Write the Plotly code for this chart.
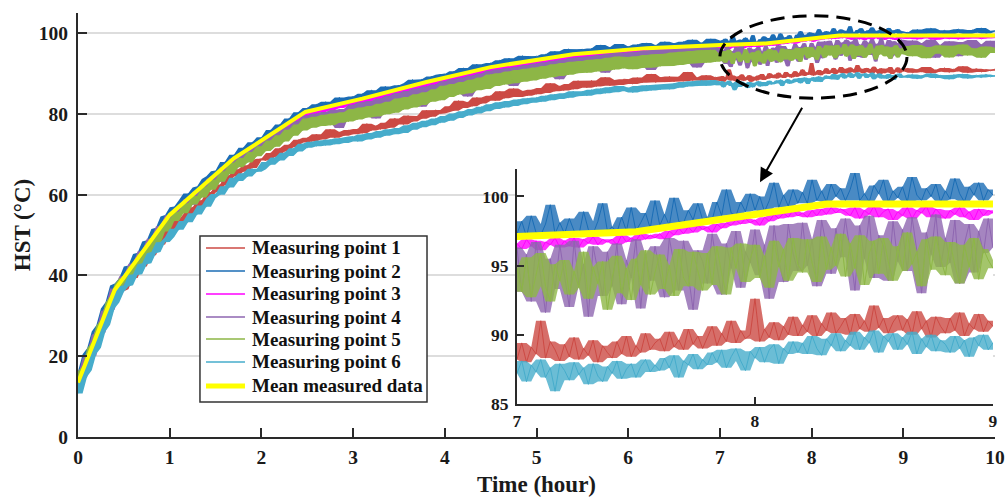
import numpy as np
import pandas as pd
import plotly.graph_objects as go

SERIF = "Liberation Serif"

# ---------------- time grids (hours) ----------------
time_a = np.round(np.arange(140) * 0.05, 2)          # 0.00 .. 6.95
time_b = np.round(7.0 + np.arange(101) * 0.02, 2)    # 7.00 .. 9.00 (zoomed window)
time_c = np.round(9.05 + np.arange(20) * 0.05, 2)    # 9.05 .. 10.00

# ---------------- mean measured data (piecewise) ----------------
mean_time = [0, 0.4, 1.0, 1.7, 2.48, 3.1, 3.8, 4.5, 5.4, 6.2, 7.0, 7.5, 8.3, 10]
mean_hst = [13.5, 36.4, 55.0, 69.0, 80.5, 83.8, 87.9, 91.6, 94.8, 96.3, 97.1, 97.45, 99.45, 99.45]

# ---------------- Measuring point 1 (red) ----------------
mp1_a = [12.0, 15.8, 17.2, 21.3, 22.9, 26.8, 28.3, 32.4, 33.9, 36.1,
         36.6, 39.3, 39.4, 42.1, 42.2, 44.8, 45.0, 47.5, 47.7, 50.3,
         51.4, 51.6, 53.8, 53.3, 55.2, 56.9, 56.4, 58.6, 58.5, 60.7,
         60.6, 62.5, 62.4, 64.8, 64.5, 66.3, 65.7, 67.3, 66.6, 68.6,
         68.9, 68.5, 70.3, 69.4, 71.5, 70.7, 72.4, 71.8, 73.6, 72.9,
         74.1, 73.2, 75.0, 73.7, 74.9, 76.2, 74.1, 75.5, 74.6, 76.0,
         75.0, 76.3, 75.2, 77.6, 75.9, 77.1, 76.2, 77.8, 76.6, 78.9,
         78.3, 77.4, 79.6, 78.1, 79.5, 78.8, 80.9, 79.3, 81.0, 80.1,
         80.4, 81.9, 80.8, 83.3, 81.5, 82.9, 81.9, 84.1, 82.6, 83.4,
         84.5, 83.3, 85.6, 83.9, 84.9, 86.3, 84.2, 85.7, 84.5, 86.0,
         84.9, 86.4, 85.2, 87.6, 85.6, 86.9, 85.8, 87.4, 86.1, 88.2,
         87.6, 86.5, 88.3, 86.8, 87.9, 89.1, 87.0, 88.4, 87.2, 88.6,
         88.5, 87.4, 89.0, 87.7, 88.8, 89.9, 87.8, 89.1, 87.9, 89.3,
         88.0, 89.2, 88.1, 90.4, 88.3, 89.0, 88.2, 89.6, 88.4, 89.1]
mp1_b = [88.2, 89.4, 88.0, 89.1, 88.6, 91.0, 88.3, 89.5, 88.9, 88.1,
         89.3, 88.4, 89.8, 88.2, 89.0, 88.5, 89.6, 88.0, 89.2, 88.7,
         88.3, 89.5, 88.6, 89.9, 88.4, 89.2, 88.7, 90.1, 88.9, 89.4,
         89.7, 88.8, 90.2, 89.1, 89.6, 88.9, 90.4, 89.3, 89.9, 89.0,
         89.8, 90.6, 89.2, 90.1, 89.5, 91.0, 89.4, 90.3, 89.7, 90.0,
         92.6, 89.5, 90.4, 89.8, 90.9, 89.6, 90.6, 90.0, 91.3, 89.9,
         90.7, 90.2, 91.4, 89.9, 90.8, 90.3, 91.6, 90.1, 90.6, 91.2,
         90.0, 91.5, 90.4, 91.0, 90.2, 92.1, 90.5, 91.2, 90.1, 90.9,
         91.4, 90.3, 91.1, 90.0, 91.7, 90.4, 91.0, 89.8, 91.3, 90.6,
         90.1, 91.2, 90.3, 91.6, 89.9, 90.8, 90.4, 91.5, 90.2, 91.0,
         90.6]
mp1_c = [91.3, 90.2, 91.0, 90.4, 91.6, 90.1, 90.9, 90.5, 91.4, 90.3,
         91.1, 90.6, 91.8, 90.2, 90.8, 91.2, 90.4, 91.0, 90.7, 91.1]

# ---------------- Measuring point 2 (blue) ----------------
mp2_a = [14.3, 16.2, 20.5, 22.0, 26.1, 27.7, 31.8, 33.4, 37.5, 38.0,
         39.4, 42.2, 42.5, 45.3, 45.6, 48.4, 48.7, 51.5, 51.8, 54.6,
         55.0, 56.9, 57.1, 58.6, 60.3, 60.0, 61.8, 62.1, 63.9, 64.6,
         65.8, 66.0, 68.1, 68.0, 69.9, 69.6, 71.6, 71.2, 73.0, 72.7,
         74.2, 74.1, 76.0, 75.6, 77.4, 77.1, 78.9, 78.5, 80.4, 80.0,
         81.5, 80.7, 82.4, 81.3, 83.0, 81.9, 82.6, 84.1, 82.7, 83.8,
         84.3, 83.6, 85.0, 84.1, 85.9, 84.8, 85.6, 86.8, 85.7, 86.5,
         87.1, 86.3, 87.6, 88.5, 87.2, 88.6, 87.9, 89.3, 88.5, 89.7,
         89.9, 89.2, 90.6, 89.8, 91.4, 90.3, 91.2, 92.3, 91.0, 92.1,
         92.6, 91.8, 93.3, 92.2, 93.8, 92.5, 93.5, 94.4, 93.1, 94.0,
         94.3, 93.6, 94.8, 94.0, 95.5, 94.3, 95.2, 96.1, 94.9, 95.8,
         96.0, 95.1, 96.2, 95.4, 97.1, 95.6, 96.5, 95.9, 97.3, 96.2,
         96.7, 95.9, 97.2, 96.1, 97.6, 96.3, 97.0, 96.5, 97.9, 96.6,
         97.5, 96.7, 97.9, 96.9, 98.4, 97.0, 97.6, 97.3, 98.6, 97.4]
mp2_b = [97.3, 98.2, 97.1, 98.6, 97.4, 97.2, 98.0, 99.4, 97.3, 98.1,
         97.3, 98.4, 97.5, 97.2, 98.9, 97.6, 97.3, 98.2, 99.5, 97.5,
         97.8, 97.4, 98.5, 97.5, 99.2, 97.5, 98.1, 98.8, 97.7, 99.7,
         97.9, 98.7, 97.9, 99.9, 98.2, 98.1, 99.0, 98.3, 99.5, 98.3,
         98.5, 98.3, 99.6, 98.6, 100.5, 98.8, 98.6, 99.6, 98.9, 100.2,
         99.0, 100.0, 98.9, 99.7, 101.0, 99.2, 100.1, 99.3, 100.5, 99.5,
         100.3, 99.5, 101.2, 99.7, 100.4, 99.6, 100.9, 100.0, 100.6, 99.7,
         100.5, 101.7, 99.7, 100.2, 99.6, 100.8, 100.2, 101.2, 99.6, 100.4,
         99.9, 100.7, 99.6, 101.4, 100.1, 99.7, 100.6, 100.0, 100.9, 99.6,
         100.4, 99.8, 101.3, 100.2, 99.6, 100.7, 100.1, 101.0, 99.7, 100.5,
         100.1]
mp2_c = [100.2, 99.7, 100.9, 100.1, 99.8, 101.2, 100.3, 99.9, 100.7, 99.7,
         100.5, 101.0, 100.1, 99.8, 100.8, 100.2, 101.3, 99.9, 100.4, 100.6]

# ---------------- Measuring point 3 (magenta) ----------------
mp3_a = [13.1, 15.4, 18.9, 21.1, 24.6, 26.8, 30.3, 32.5, 36.0, 37.0,
         39.1, 40.1, 42.2, 43.2, 45.3, 46.3, 48.4, 49.4, 51.5, 52.5,
         54.6, 55.1, 56.5, 57.2, 58.5, 59.0, 60.6, 61.1, 62.4, 63.4,
         64.5, 65.0, 66.6, 67.1, 68.0, 69.3, 69.5, 70.8, 71.0, 72.3,
         72.9, 73.2, 74.5, 74.6, 76.0, 76.1, 77.4, 77.6, 78.9, 79.1,
         80.2, 79.8, 80.7, 80.5, 81.3, 80.9, 81.8, 81.5, 82.3, 82.0,
         82.9, 82.5, 83.4, 83.1, 84.0, 83.7, 84.6, 84.2, 85.3, 84.9,
         85.7, 85.3, 86.4, 86.0, 86.9, 86.5, 87.5, 87.1, 88.1, 87.7,
         88.6, 88.2, 89.1, 88.8, 89.7, 89.3, 90.1, 89.8, 90.7, 90.4,
         91.2, 90.8, 91.6, 91.1, 91.9, 91.5, 92.3, 91.9, 92.6, 92.2,
         93.0, 92.6, 93.3, 92.9, 93.7, 93.3, 94.0, 93.6, 94.4, 94.0,
         94.6, 94.1, 94.8, 94.5, 95.1, 94.6, 95.2, 94.8, 95.4, 95.0,
         95.5, 95.0, 95.7, 95.3, 95.9, 95.5, 96.0, 95.6, 96.1, 95.7,
         96.2, 95.8, 96.3, 96.0, 96.5, 96.1, 96.6, 96.2, 96.7, 96.4]
mp3_b = [96.6, 96.2, 96.9, 96.4, 96.8, 96.1, 96.7, 96.5, 97.0, 96.3,
         96.8, 96.4, 97.0, 96.3, 96.9, 96.6, 97.1, 96.5, 96.9, 96.7,
         96.9, 96.5, 97.2, 96.7, 97.0, 96.8, 97.3, 96.9, 97.2, 97.0,
         97.3, 96.9, 97.5, 97.2, 97.7, 97.3, 97.8, 97.4, 97.9, 97.6,
         97.8, 97.4, 98.0, 97.7, 98.1, 97.9, 98.3, 98.0, 98.4, 98.1,
         98.3, 97.9, 98.5, 98.2, 98.7, 98.4, 98.8, 98.5, 99.0, 98.6,
         98.8, 98.5, 99.0, 98.6, 99.1, 98.7, 99.2, 98.8, 99.1, 98.9,
         98.6, 99.2, 98.4, 99.0, 98.7, 99.3, 98.5, 98.9, 99.1, 98.3,
         98.9, 98.6, 99.2, 98.4, 99.0, 98.8, 99.3, 98.5, 99.1, 98.7,
         98.4, 99.0, 98.7, 99.2, 98.5, 98.9, 98.3, 99.1, 98.6, 99.0,
         98.8]
mp3_c = [98.7, 99.1, 98.5, 99.0, 98.8, 99.2, 98.4, 98.9, 99.1, 98.6,
         99.0, 98.5, 99.2, 98.7, 98.9, 99.1, 98.6, 99.0, 98.8, 98.9]

# ---------------- Measuring point 4 (purple) ----------------
mp4_a = [13.9, 14.8, 19.6, 20.1, 25.3, 25.9, 31.2, 31.5, 36.8, 36.0,
         39.8, 39.0, 42.9, 42.1, 46.0, 45.2, 49.1, 48.3, 52.2, 51.4,
         54.9, 53.9, 56.7, 55.8, 58.9, 57.5, 60.8, 60.0, 61.3, 63.9,
         64.6, 63.2, 66.8, 65.4, 68.9, 67.0, 70.2, 68.3, 71.6, 70.0,
         73.0, 71.4, 74.5, 72.6, 75.8, 74.0, 76.9, 75.2, 78.3, 76.4,
         79.6, 76.9, 80.1, 77.8, 80.5, 78.2, 81.0, 76.5, 81.2, 79.3,
         82.3, 79.5, 82.9, 80.4, 83.2, 78.9, 83.8, 81.0, 84.5, 80.8,
         85.2, 82.4, 85.7, 83.0, 86.3, 81.8, 86.8, 83.6, 87.3, 84.0,
         88.1, 84.9, 88.6, 85.5, 89.0, 84.3, 89.5, 86.2, 90.0, 86.4,
         90.7, 87.8, 91.1, 88.2, 91.4, 86.9, 91.7, 88.7, 92.1, 88.9,
         92.5, 89.6, 92.8, 90.0, 93.2, 88.6, 93.4, 90.3, 93.9, 90.6,
         94.1, 91.0, 94.3, 91.6, 94.6, 90.2, 94.9, 91.9, 95.2, 92.0,
         95.2, 91.8, 95.4, 92.3, 95.7, 90.9, 95.9, 92.5, 96.0, 92.7,
         96.0, 92.6, 96.2, 93.0, 96.4, 91.5, 96.5, 93.2, 96.7, 93.4]
mp4_b = [96.3, 93.1, 95.8, 92.4, 96.7, 94.0, 91.6, 95.5, 93.3, 96.5,
         94.2, 92.0, 96.8, 93.6, 95.1, 91.3, 96.4, 94.5, 92.8, 96.0,
         93.5, 96.6, 92.2, 95.4, 94.1, 96.9, 91.9, 95.8, 93.9, 96.4,
         94.6, 92.7, 97.0, 95.1, 93.2, 96.8, 94.4, 91.8, 96.1, 95.3,
         93.7, 97.3, 95.0, 92.9, 96.6, 94.8, 97.5, 93.4, 96.0, 95.2,
         97.6, 94.3, 96.5, 92.6, 97.9, 95.4, 93.8, 98.0, 95.9, 94.6,
         98.1, 95.0, 96.9, 93.5, 98.3, 96.2, 94.4, 97.7, 95.6, 98.4,
         96.0, 93.2, 97.9, 95.5, 98.6, 94.1, 97.2, 96.4, 93.9, 98.2,
         95.3, 97.6, 94.6, 98.5, 96.1, 93.0, 97.4, 95.8, 98.7, 94.9,
         97.0, 95.2, 98.3, 93.7, 96.6, 98.0, 94.5, 97.5, 95.9, 98.4,
         96.3]
mp4_c = [95.8, 98.2, 94.6, 97.5, 96.2, 98.4, 93.9, 97.1, 95.4, 98.0,
         96.5, 94.3, 97.8, 95.9, 98.3, 94.8, 97.2, 96.0, 98.1, 95.5]

# ---------------- Measuring point 5 (green) ----------------
mp5_a = [12.1, 16.3, 17.6, 22.0, 23.5, 27.6, 29.1, 33.3, 34.9, 37.8,
         39.3, 39.2, 42.3, 42.0, 45.2, 44.9, 48.0, 47.9, 51.1, 50.9,
         53.9, 53.5, 55.8, 55.4, 57.9, 57.6, 59.7, 59.3, 62.0, 61.2,
         63.7, 63.2, 65.8, 65.1, 67.9, 66.8, 69.1, 68.0, 70.6, 69.5,
         72.0, 70.8, 73.4, 71.9, 74.7, 73.2, 76.1, 74.6, 77.4, 75.9,
         78.9, 76.6, 79.3, 77.0, 79.8, 77.2, 80.1, 77.8, 80.4, 78.1,
         81.2, 78.6, 81.6, 79.1, 82.0, 79.4, 82.5, 79.9, 83.0, 80.3,
         83.8, 81.1, 84.2, 81.6, 84.9, 82.2, 85.4, 83.0, 86.1, 83.4,
         87.0, 84.2, 87.4, 84.8, 87.9, 85.1, 88.5, 85.9, 89.0, 86.2,
         89.8, 86.9, 90.1, 87.3, 90.5, 87.6, 90.9, 88.0, 91.2, 88.3,
         91.5, 88.7, 91.9, 89.1, 92.3, 89.4, 92.6, 89.7, 92.9, 90.1,
         93.1, 90.2, 93.4, 90.5, 93.6, 90.7, 93.9, 91.0, 94.2, 91.3,
         94.1, 91.1, 94.3, 91.4, 94.6, 91.5, 94.8, 91.8, 94.9, 91.9,
         95.2, 92.1, 95.4, 92.4, 95.6, 92.6, 95.8, 92.7, 95.9, 92.9]
mp5_b = [94.8, 93.1, 95.6, 92.7, 94.3, 95.9, 93.5, 92.4, 95.1, 93.9,
         95.4, 92.9, 94.6, 93.4, 96.0, 92.6, 94.9, 93.7, 95.3, 91.8,
         94.1, 95.7, 93.0, 94.8, 92.5, 95.5, 93.6, 96.1, 92.9, 94.5,
         95.8, 93.3, 95.0, 92.8, 96.2, 94.1, 93.5, 96.0, 94.6, 93.2,
         95.9, 93.6, 96.4, 94.4, 92.9, 96.3, 94.8, 96.6, 93.8, 95.5,
         96.5, 94.1, 95.7, 93.4, 96.8, 94.9, 96.2, 93.9, 97.0, 95.1,
         94.5, 96.9, 95.2, 93.8, 97.1, 94.7, 96.3, 95.0, 97.3, 94.2,
         96.6, 94.8, 97.2, 93.6, 95.9, 96.8, 94.4, 97.0, 95.3, 93.9,
         96.4, 94.6, 97.4, 95.1, 96.0, 93.5, 96.9, 94.7, 97.1, 95.5,
         94.3, 96.7, 95.0, 93.7, 96.5, 94.9, 97.0, 94.0, 96.2, 95.4,
         94.8]
mp5_c = [96.8, 94.3, 97.1, 95.2, 93.8, 96.6, 94.9, 97.0, 95.4, 94.0,
         96.9, 95.0, 97.2, 94.5, 96.3, 95.6, 93.9, 96.7, 95.1, 96.4]

# ---------------- Measuring point 6 (cyan) ----------------
mp6_a = [10.8, 15.0, 16.5, 20.6, 22.1, 26.2, 27.8, 31.9, 33.3, 35.9,
         37.3, 37.6, 40.1, 40.3, 42.8, 43.0, 45.5, 45.8, 48.2, 48.3,
         49.5, 51.6, 51.3, 53.5, 53.2, 55.4, 55.1, 57.3, 57.0, 59.1,
         60.2, 60.0, 62.1, 61.8, 64.2, 63.4, 65.3, 64.5, 66.4, 65.7,
         66.3, 68.1, 67.4, 69.2, 68.5, 70.4, 69.6, 71.5, 70.7, 72.6,
         71.6, 73.1, 72.0, 73.4, 72.2, 73.7, 72.5, 74.0, 72.8, 74.2,
         74.4, 73.2, 74.9, 73.7, 75.3, 74.1, 75.8, 74.6, 76.2, 75.0,
         76.5, 75.3, 77.2, 76.1, 77.8, 76.7, 78.3, 77.2, 78.9, 77.8,
         79.5, 78.3, 80.1, 79.0, 80.7, 79.6, 81.2, 80.1, 81.8, 80.7,
         82.4, 81.2, 82.9, 81.6, 83.2, 82.0, 83.6, 82.4, 83.9, 82.8,
         84.1, 83.0, 84.5, 83.4, 84.9, 83.7, 85.1, 84.0, 85.6, 84.4,
         85.6, 84.5, 86.0, 84.9, 86.3, 85.1, 86.6, 85.4, 86.9, 85.7,
         86.5, 85.3, 86.9, 85.6, 87.1, 85.8, 87.2, 86.0, 87.4, 86.1,
         87.6, 86.5, 87.9, 86.8, 88.1, 86.9, 88.3, 87.0, 88.4, 87.2]
mp6_b = [87.2, 88.1, 86.6, 87.8, 87.3, 88.2, 86.9, 87.6, 85.9, 87.9,
         87.4, 86.7, 88.0, 87.1, 87.6, 86.4, 87.9, 87.0, 86.6, 87.7,
         87.2, 88.1, 86.8, 87.5, 87.9, 86.9, 87.7, 88.2, 87.3, 87.8,
         87.4, 88.3, 87.6, 88.5, 86.9, 88.1, 87.8, 88.6, 87.5, 88.2,
         87.8, 88.7, 88.0, 88.9, 87.6, 88.4, 89.0, 88.1, 87.4, 88.8,
         88.3, 89.1, 88.0, 88.9, 89.3, 87.9, 89.0, 88.6, 89.5, 88.7,
         89.4, 88.6, 89.9, 89.0, 88.5, 89.7, 89.2, 90.1, 88.8, 89.6,
         89.2, 90.2, 88.9, 89.8, 89.4, 90.3, 88.7, 89.9, 89.5, 90.1,
         88.9, 89.8, 89.3, 90.2, 88.6, 89.7, 89.1, 90.0, 88.8, 89.6,
         89.3, 88.7, 89.9, 89.0, 89.6, 88.4, 89.8, 89.2, 90.0, 88.9,
         89.4]
mp6_c = [89.0, 89.8, 88.7, 89.5, 89.2, 90.0, 88.9, 89.6, 89.3, 88.6,
         89.7, 89.1, 89.9, 88.8, 89.4, 89.6, 89.0, 89.8, 89.2, 89.5]

series_names = ["Measuring point 1", "Measuring point 2", "Measuring point 3",
                "Measuring point 4", "Measuring point 5", "Measuring point 6"]
series_colors = ["#CC4A44", "#1B6DB5", "#FF00FF", "#8E66B0", "#8DB646", "#46ACCB"]
series_a = [mp1_a, mp2_a, mp3_a, mp4_a, mp5_a, mp6_a]
series_b = [mp1_b, mp2_b, mp3_b, mp4_b, mp5_b, mp6_b]
series_c = [mp1_c, mp2_c, mp3_c, mp4_c, mp5_c, mp6_c]
mean_name = "Mean measured data"
mean_color = "#FFFF00"

x_ticks = [0, 1, 2, 3, 4, 5, 6, 7, 8, 9, 10]
y_ticks = [0, 20, 40, 60, 80, 100]
inset_x_ticks = [7, 8, 9]
inset_y_ticks = [85, 90, 95, 100]

time_all = np.concatenate([time_a, time_b, time_c])


def envelope(values):
    s = pd.Series(values, dtype=float)
    hi = s.rolling(3, center=True, min_periods=1).max().to_numpy()
    lo = s.rolling(3, center=True, min_periods=1).min().to_numpy()
    return hi, lo


fig = go.Figure()


def add_series(t, y, col, xa, ya, band_opacity):
    hi, lo = envelope(y)
    fig.add_trace(go.Scatter(x=np.concatenate([t, t[::-1]]), y=np.concatenate([hi, lo[::-1]]),
                             mode="lines", fill="toself", fillcolor=col, opacity=band_opacity,
                             line=dict(width=0, color=col), showlegend=False,
                             xaxis=xa, yaxis=ya, hoverinfo="skip"))
    fig.add_trace(go.Scatter(x=t, y=y, mode="lines", line=dict(color=col, width=1),
                             showlegend=False, xaxis=xa, yaxis=ya, hoverinfo="skip"))


# main chart
for col, a, b, c in zip(series_colors, series_a, series_b, series_c):
    add_series(time_all, np.array(a + b + c), col, "x", "y", 1.0)
fig.add_trace(go.Scatter(x=mean_time, y=mean_hst, mode="lines", line=dict(color=mean_color, width=4),
                         showlegend=False, xaxis="x", yaxis="y", hoverinfo="skip"))

# inset (zoomed window 7-9 h)
for col, b in zip(series_colors, series_b):
    add_series(time_b, np.array(b), col, "x2", "y2", 0.8)
fig.add_trace(go.Scatter(x=mean_time, y=mean_hst, mode="lines", line=dict(color=mean_color, width=7),
                         showlegend=False, xaxis="x2", yaxis="y2", hoverinfo="skip"))

tickfont = dict(family=SERIF, size=19.5, color="#1a1a1a", weight="bold")
inset_tickfont = dict(family=SERIF, size=17.5, color="#1a1a1a", weight="bold")
axis_line = dict(showline=True, linewidth=2, linecolor="#2a2a2a", ticks="inside",
                 tickwidth=2, tickcolor="#2a2a2a", zeroline=False, mirror=False,
                 automargin=False)

fig.update_layout(
    width=1006, height=500,
    margin=dict(l=78, r=11, t=13, b=63),
    paper_bgcolor="white", plot_bgcolor="white",
    showlegend=False,
    xaxis=dict(domain=[0, 1], range=[0, 10], tickvals=x_ticks, ticklen=9,
               showgrid=False, tickfont=tickfont, ticklabelstandoff=2,
               title=dict(text="Time (hour)", standoff=8,
                          font=dict(family=SERIF, size=23, color="#1a1a1a", weight="bold")),
               **axis_line),
    yaxis=dict(domain=[0, 1], range=[0, 105], tickvals=y_ticks, ticklen=9,
               showgrid=True, gridcolor="#dddddd", gridwidth=1.5,
               tickfont=tickfont, ticklabelstandoff=4,
               title=dict(text="HST (°C)", standoff=2,
                          font=dict(family=SERIF, size=23, color="#1a1a1a", weight="bold")),
               **axis_line),
    xaxis2=dict(domain=[0.4787, 0.9978], anchor="y2", range=[7, 9], tickvals=inset_x_ticks,
                ticklen=7, showgrid=False, tickfont=inset_tickfont, ticklabelstandoff=0,
                **axis_line),
    yaxis2=dict(domain=[0.0785, 0.6325], anchor="x2", range=[85, 102], tickvals=inset_y_ticks,
                ticklen=7, showgrid=False, tickfont=inset_tickfont, ticklabelstandoff=3,
                **axis_line),
)

# dashed ellipse marking the zoomed window
fig.add_shape(type="circle", xref="x", yref="y", x0=7.0, x1=9.04, y0=83.9, y1=104.3,
              line=dict(color="black", width=3, dash="14px,8px"), layer="above")

# arrow pointing to the inset
fig.add_annotation(x=7.437, y=63.1, ax=7.906, ay=81.9, xref="x", yref="y",
                   axref="x", ayref="y", text="", showarrow=True, arrowhead=2,
                   arrowsize=1.4, arrowwidth=2, arrowcolor="black")

# legend box (drawn as a framed key so row spacing matches the original)
LEG_X0, LEG_X1, LEG_Y0, LEG_Y1 = 0.1330, 0.3806, 0.0825, 0.4741
leg_rows = [0.4458, 0.3915, 0.3373, 0.2830, 0.2311, 0.1769, 0.1203]
fig.add_shape(type="rect", xref="paper", yref="paper", x0=LEG_X0, x1=LEG_X1, y0=LEG_Y0, y1=LEG_Y1,
              fillcolor="white", line=dict(color="#333333", width=1.5), layer="above")
for name, col, yr in zip(series_names + [mean_name], series_colors + [mean_color], leg_rows):
    w = 5 if name == mean_name else 1.5
    fig.add_shape(type="line", xref="paper", yref="paper", x0=0.1396, x1=0.1821, y0=yr, y1=yr,
                  line=dict(color=col, width=w), layer="above")
    fig.add_annotation(x=0.1876, y=yr, xref="paper", yref="paper", text=name, showarrow=False,
                       xanchor="left", yanchor="middle",
                       font=dict(family=SERIF, size=19, color="#111111", weight="bold"))

fig.write_html("out.html")
